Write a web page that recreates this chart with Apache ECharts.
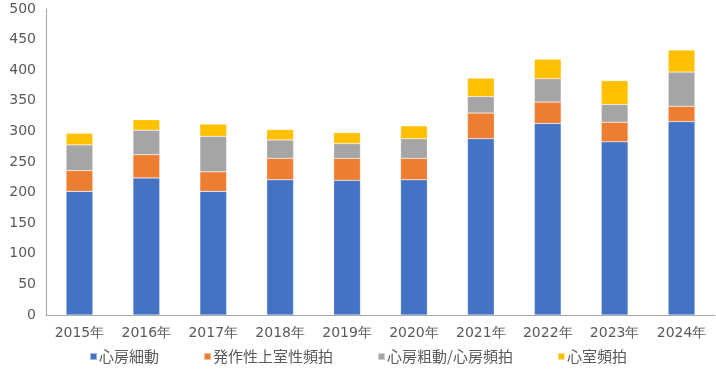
<!DOCTYPE html>
<html><head><meta charset="utf-8">
<script src="https://cdn.jsdelivr.net/npm/echarts@6/dist/echarts.min.js"></script>
<style>html,body{margin:0;padding:0;background:#fff}#c{width:716px;height:370px}</style>
</head><body><div id="c"></div>
<script>
var categories = ['2015年','2016年','2017年','2018年','2019年','2020年','2021年','2022年','2023年','2024年'];
var seriesNames = ['心房細動','発作性上室性頻拍','心房粗動/心房頻拍','心室頻拍'];
var afib  = [202, 224, 202, 221, 220, 221, 288, 313, 283, 316];
var psvt  = [34, 38, 32, 35, 36, 35, 42, 35, 32, 25];
var aflut = [42, 40, 58, 30, 24, 32, 27, 38, 29, 56];
var vt    = [19, 17, 20, 17, 18, 21, 30, 32, 39, 36];
var colors = ['#4472C4','#ED7D31','#A5A5A5','#FFC000'];
var values = [afib, psvt, aflut, vt];

var chart = echarts.init(document.getElementById('c'));
chart.setOption({
  animation: false,
  color: colors,
  grid: {left: 46, right: 1, top: 9, bottom: 55, containLabel: false},
  legend: {
    data: seriesNames, bottom: 1, left: 'center', icon: 'rect',
    itemWidth: 7, itemHeight: 7, itemGap: 44,
    textStyle: {fontFamily: 'Noto Sans CJK JP', fontSize: 15, color: '#595959', padding: [0,0,0,-3]}
  },
  xAxis: {
    type: 'category', data: categories,
    axisLine: {show: true, lineStyle: {color: '#a6a6a6', width: 1}},
    axisTick: {show: false},
    axisLabel: {fontFamily: 'DejaVu Sans', fontSize: 14, color: '#595959', margin: 11, interval: 0}
  },
  yAxis: {
    type: 'value', min: 0, max: 500, interval: 50,
    axisLine: {show: true, lineStyle: {color: '#a6a6a6', width: 1}},
    axisTick: {show: false},
    splitLine: {show: false},
    axisLabel: {fontFamily: 'DejaVu Sans', fontSize: 14, color: '#595959', margin: 10}
  },
  series: seriesNames.map(function(n, i){
    return {name: n, type: 'bar', stack: 'total', data: values[i], barWidth: '40%',
      itemStyle: {color: colors[i], borderColor: 'rgba(255,255,255,0.5)', borderWidth: 0.5}};
  })
});
</script></body></html>
